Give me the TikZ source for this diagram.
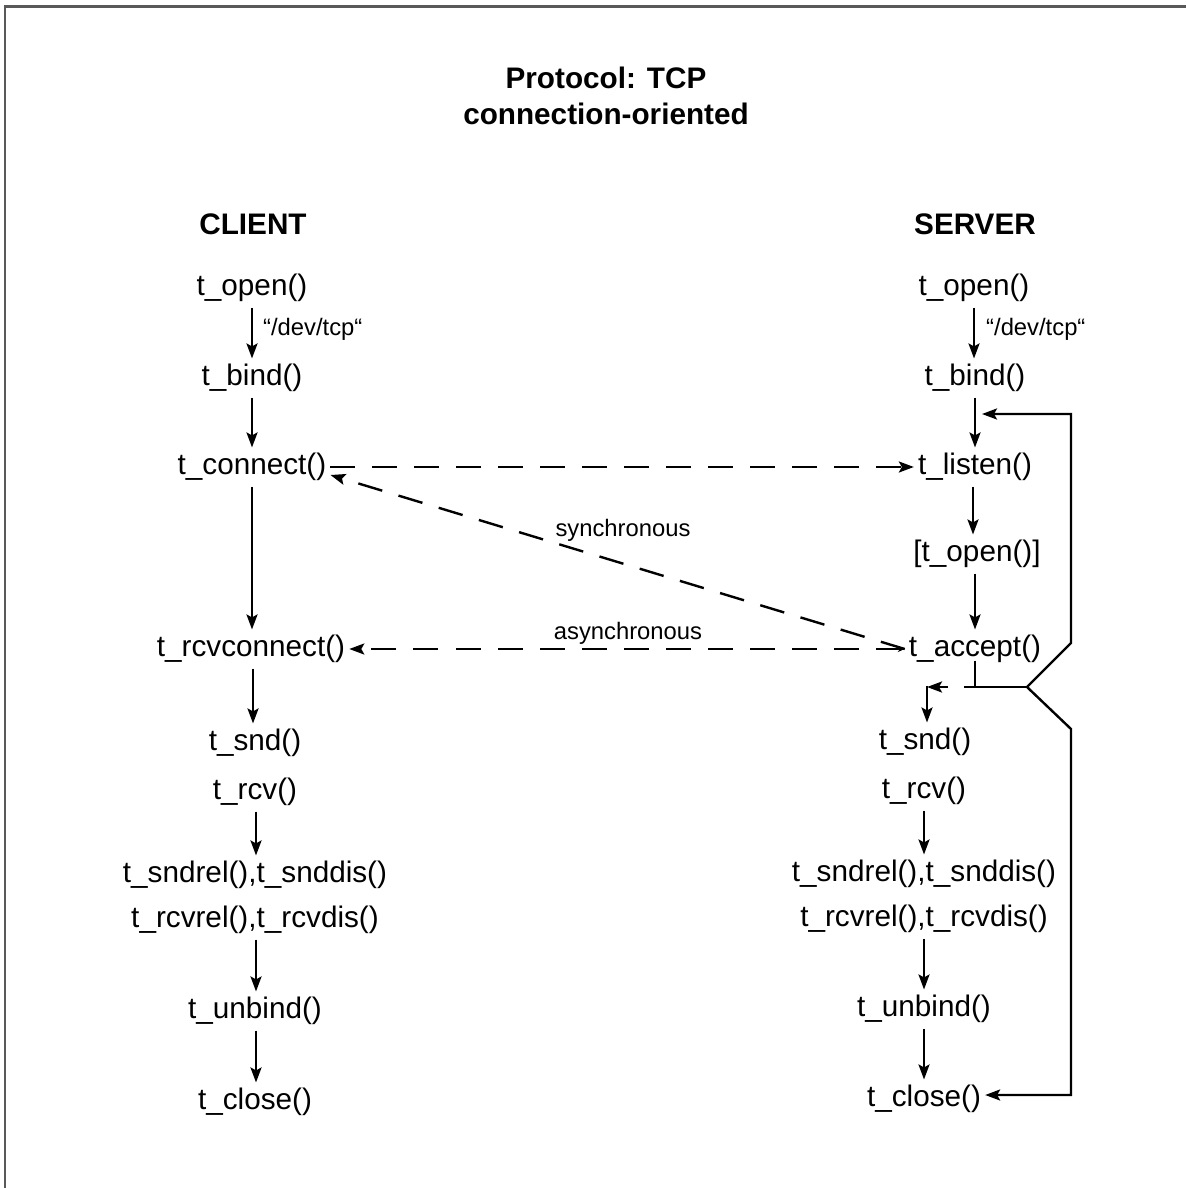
\documentclass[tikz,border=0pt]{standalone}
\usepackage{fontspec}
\setmainfont{Liberation Sans}
\usetikzlibrary{arrows.meta}
\begin{document}
\begin{tikzpicture}[x=1pt,y=-1pt,
  fn/.style={inner xsep=4pt,inner ysep=5.5pt,font=\fontsize{29.7}{33}\selectfont},
  head/.style={inner sep=0pt,font=\fontsize{29.7}{33}\selectfont\bfseries},
  small/.style={inner sep=0pt,anchor=west,font=\fontsize{23.8}{27}\selectfont},
  ln/.style={line width=2.4pt},
  arr/.style={ln,-{Stealth[length=15pt,width=11pt,inset=3pt]}},
  dsh/.style={arr,dash pattern=on 25pt off 17pt},
  frame/.style={draw=black!65,line width=2.5pt}]
\useasboundingbox (0,0) rectangle (1186,1188);
% page frame (top and left edges)
\draw[frame] (5,1188) -- (5,6.5) -- (1186,6.5);

% title
\node[head] (t1) at (606,78) {Protocol: TCP};
\node[head] (t2) at (606,114) {connection-oriented};
\node[head] (cl) at (253,224) {CLIENT};
\node[head] (sv) at (975,224) {SERVER};

% client calls
\node[fn] (co) at (252,288) {t\_open()};
\node[fn] (cb) at (252,378) {t\_bind()};
\node[fn] (cc) at (252,467) {t\_connect()};
\node[fn] (cr) at (251,649) {t\_rcvconnect()};
\node[fn] (cs) at (255,743) {t\_snd()};
\node[fn] (cv) at (255,792) {t\_rcv()};
\node[fn] (cd) at (255,875) {t\_sndrel(),t\_snddis()};
\node[fn] (ce) at (255,920) {t\_rcvrel(),t\_rcvdis()};
\node[fn] (cu) at (255,1011) {t\_unbind()};
\node[fn] (cx) at (255,1102) {t\_close()};

% server calls
\node[fn] (so) at (974,288) {t\_open()};
\node[fn] (sb) at (975,378) {t\_bind()};
\node[fn] (sl) at (975,467) {t\_listen()};
\node[fn] (sp) at (977,554) {[t\_open()]};
\node[fn] (sa) at (975,649) {t\_accept()};
\node[fn] (ss) at (925,742) {t\_snd()};
\node[fn] (sr) at (924,791) {t\_rcv()};
\node[fn] (sd) at (924,874) {t\_sndrel(),t\_snddis()};
\node[fn] (se) at (924,919) {t\_rcvrel(),t\_rcvdis()};
\node[fn] (su) at (924,1009) {t\_unbind()};
\node[fn] (sx) at (924,1099) {t\_close()};

% device labels
\node[small] (cdev) at (263,329) {“/dev/tcp“};
\node[small] (sdev) at (986,329) {“/dev/tcp“};

% client flow
\draw[arr] (co.south) -- (co.south |- cb.north);
\draw[arr] (cb.south) -- (cb.south |- cc.north);
\draw[arr] (cc.south) -- (cc.south |- cr.north);
\draw[arr] ([xshift=2pt]cr.south) -- ([xshift=2pt]cr.south |- cs.north);
\draw[arr] ([xshift=1pt]cv.south) -- ([xshift=1pt]cv.south |- cd.north);
\draw[arr] ([xshift=1pt]ce.south) -- ([xshift=1pt]ce.south |- cu.north);
\draw[arr] ([xshift=1pt]cu.south) -- ([xshift=1pt]cu.south |- cx.north);

% server flow
\draw[arr] (so.south) -- (so.south |- sb.north);
\draw[arr] (sb.south) -- (sb.south |- sl.north);
\draw[arr] ([xshift=-2pt]sl.south) -- ([xshift=-2pt]sl.south |- sp.north);
\draw[arr] ([xshift=-2pt]sp.south) -- ([xshift=-2pt]sp.south |- sa.north);
\draw[arr] (sr.south) -- (sr.south |- sd.north);
\draw[arr] (se.south) -- (se.south |- su.north);
\draw[arr] (su.south) -- (su.south |- sx.north);

% branch below t_accept()
\coordinate (fork) at (1027,687);
\coordinate (sj) at (927,687);
\coordinate (loopin) at (982,414);
\draw[ln] ([yshift=8pt]sa.south) -- (sa.south |- fork);
\draw[ln] (964,687) -- (fork);
\draw[arr] (948,687) -- (sj);
\draw[arr] ([yshift=1.2pt]sj) -- (sj |- ss.north);
\draw[arr] (fork) -- (1071,643) -- (1071,414) -- (loopin);
\draw[arr] (fork) -- (1071,729) -- (1071,1095) -- (sx.east |- 0,1095);

% connection requests
\draw[dsh] (cc.east) -- (sl.west);
\draw[dsh] (sa.west) -- ([yshift=-8pt]cc.east);
\draw[dsh,{Stealth[length=7pt,width=6pt]}-{Stealth[length=15pt,width=11pt,inset=3pt]}] (sa.west) -- (cr.east);
\node[small,anchor=center] (syn) at (623,530) {synchronous};
\node[small,anchor=center] (asy) at (628,633) {asynchronous};
\end{tikzpicture}
\end{document}
